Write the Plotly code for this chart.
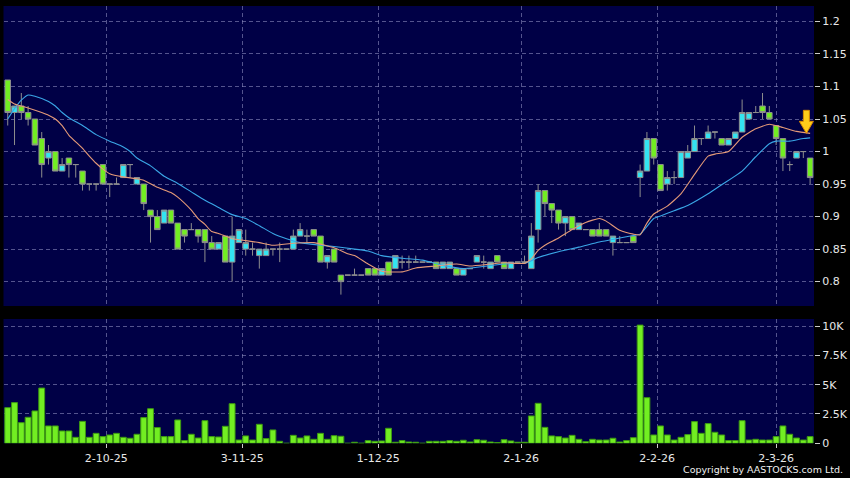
import plotly.graph_objects as go

# ---------------- data ----------------
opens = [1.11,1.06,1.07,1.06,1.05,1.02,0.99,1.00,0.97,0.99,0.98,0.97,0.95,0.95,0.98,0.95,0.95,0.96,0.98,0.95,
         0.95,0.91,0.90,0.89,0.91,0.89,0.88,0.88,0.88,0.88,0.86,0.85,0.87,0.83,0.86,0.85,0.85,0.84,0.84,0.85,
         0.85,0.85,0.85,0.87,0.87,0.88,0.87,0.83,0.85,0.81,0.81,0.81,0.81,0.82,0.82,0.81,0.83,0.82,0.83,0.83,
         0.83,0.83,0.83,0.83,0.82,0.82,0.82,0.81,0.82,0.83,0.83,0.82,0.84,0.83,0.82,0.83,0.83,0.82,0.88,0.94,
         0.92,0.91,0.89,0.90,0.88,0.88,0.88,0.88,0.88,0.86,0.86,0.86,0.87,0.96,0.97,1.02,0.98,0.95,0.96,0.96,
         0.99,1.00,1.02,1.02,1.03,1.02,1.01,1.02,1.03,1.05,1.06,1.07,1.06,1.04,1.02,0.98,0.99,1.00,0.99]
highs = [1.11,1.07,1.09,1.07,1.05,1.03,1.01,1.00,0.99,0.99,0.98,0.97,0.95,0.95,0.98,0.95,0.96,0.98,0.98,0.96,
         0.95,0.91,0.91,0.91,0.91,0.89,0.88,0.89,0.88,0.88,0.87,0.86,0.87,0.90,0.88,0.88,0.86,0.85,0.86,0.85,
         0.86,0.85,0.88,0.89,0.88,0.88,0.87,0.84,0.85,0.81,0.81,0.82,0.81,0.82,0.82,0.82,0.83,0.84,0.84,0.84,
         0.84,0.83,0.83,0.83,0.83,0.83,0.82,0.82,0.82,0.84,0.84,0.83,0.84,0.83,0.83,0.83,0.84,0.89,0.95,0.94,
         0.92,0.91,0.90,0.90,0.89,0.88,0.88,0.89,0.88,0.87,0.87,0.86,0.87,0.98,1.03,1.02,0.98,0.97,0.97,1.00,
         1.01,1.04,1.02,1.04,1.03,1.02,1.02,1.03,1.08,1.06,1.07,1.09,1.07,1.04,1.02,0.985,1.00,1.00,0.99]
lows  = [1.04,1.01,1.05,1.04,1.01,0.96,0.98,0.97,0.97,0.96,0.96,0.94,0.94,0.94,0.95,0.93,0.95,0.96,0.96,0.95,
         0.91,0.86,0.88,0.89,0.89,0.85,0.86,0.88,0.86,0.83,0.85,0.85,0.83,0.80,0.86,0.84,0.84,0.82,0.84,0.84,
         0.83,0.85,0.85,0.87,0.86,0.87,0.83,0.82,0.83,0.78,0.81,0.81,0.81,0.81,0.81,0.81,0.81,0.82,0.82,0.82,
         0.83,0.83,0.83,0.82,0.82,0.82,0.81,0.81,0.82,0.83,0.82,0.82,0.83,0.82,0.82,0.83,0.83,0.82,0.86,0.90,
         0.89,0.88,0.87,0.88,0.88,0.88,0.87,0.87,0.87,0.84,0.86,0.86,0.86,0.93,0.97,0.98,0.94,0.94,0.95,0.96,
         0.99,1.00,1.01,1.02,1.02,1.01,1.01,1.02,1.03,1.05,1.06,1.05,1.05,1.01,0.97,0.97,0.99,0.99,0.95]
closes = [1.06,1.07,1.06,1.05,1.01,0.98,1.00,0.97,0.98,0.98,0.98,0.95,0.95,0.95,0.95,0.95,0.95,0.98,0.98,0.96,
          0.92,0.90,0.88,0.91,0.89,0.85,0.87,0.88,0.87,0.86,0.85,0.86,0.83,0.87,0.88,0.86,0.85,0.85,0.85,0.85,
          0.85,0.85,0.87,0.88,0.87,0.87,0.83,0.84,0.83,0.80,0.81,0.81,0.81,0.81,0.81,0.82,0.81,0.84,0.83,0.83,
          0.83,0.83,0.83,0.82,0.83,0.83,0.81,0.82,0.82,0.84,0.83,0.83,0.83,0.82,0.83,0.83,0.83,0.87,0.94,0.92,
          0.91,0.89,0.90,0.88,0.89,0.88,0.87,0.87,0.87,0.87,0.86,0.86,0.86,0.97,1.02,0.99,0.94,0.96,0.96,1.00,
          1.00,1.02,1.02,1.03,1.03,1.01,1.02,1.03,1.06,1.06,1.06,1.06,1.05,1.02,0.99,0.98,1.00,1.00,0.96]
volumes = [3040,3470,1760,2220,2760,4710,1480,1480,1050,1050,510,1870,510,850,570,710,850,510,430,770,
           2190,2950,1340,570,570,1990,230,770,450,1930,570,540,1450,3380,280,630,280,1620,400,1140,
           170,0,680,450,630,340,850,340,650,600,0,90,0,230,170,200,1280,90,230,110,
           90,0,170,170,170,230,170,260,110,310,260,110,60,310,200,90,90,2330,3410,1360,
           630,570,450,680,340,140,340,280,280,430,110,230,480,10080,3890,710,1480,710,280,510,
           740,1850,850,1680,940,710,230,230,1930,280,340,280,280,570,1480,770,450,280,570]
day = list(range(len(closes)))

# moving averages (day index, value)
ma_short_day = [0,1,3,5,6,7,8,9,11,12,13,14,15,17,19,20,22,24,25,27,28,29,30,31,33,35,37,39,42,45,48,50,51,
                53,55,58,60,63,66,68,71,73,76,77,78,79,81,83,85,87,88,90,92,93,94,95,97,99,101,103,104,106,
                108,110,112,114,116,118]
ma_short = [1.080,1.073,1.067,1.060,1.056,1.050,1.040,1.025,1.005,0.993,0.982,0.973,0.966,0.961,0.958,0.956,
            0.945,0.937,0.930,0.910,0.897,0.888,0.877,0.874,0.866,0.863,0.860,0.856,0.859,0.860,0.852,0.843,
            0.840,0.827,0.816,0.815,0.821,0.824,0.827,0.824,0.827,0.829,0.828,0.835,0.848,0.856,0.867,0.880,
            0.891,0.897,0.893,0.879,0.873,0.872,0.890,0.904,0.916,0.935,0.965,0.993,0.996,1.000,1.022,1.035,
            1.042,1.037,1.031,1.028]
ma_long_day = [0,1,2,3,4,6,7,8,9,11,13,15,17,18,19,21,23,25,27,29,31,33,35,37,39,41,43,46,48,51,53,55,58,61,
               64,67,69,72,74,76,78,81,84,87,90,92,93,95,96,98,100,103,105,108,110,112,113,115,117,118]
ma_long = [1.050,1.066,1.079,1.087,1.085,1.077,1.070,1.060,1.052,1.040,1.026,1.016,1.007,1.000,0.990,0.978,
           0.962,0.951,0.938,0.925,0.914,0.903,0.897,0.886,0.874,0.866,0.860,0.856,0.854,0.850,0.847,0.840,
           0.836,0.833,0.825,0.820,0.822,0.826,0.828,0.828,0.837,0.846,0.853,0.861,0.867,0.871,0.873,0.897,
           0.901,0.909,0.917,0.935,0.949,0.970,0.992,1.012,1.016,1.016,1.020,1.021]

date_tick_day = [14.5, 34.5, 54.5, 75.5, 95.5, 113]
date_tick_text = ["2-10-25", "3-11-25", "1-12-25", "2-1-26", "2-2-26", "2-3-26"]
price_ticks = [0.8, 0.85, 0.9, 0.95, 1.0, 1.05, 1.1, 1.15, 1.2]
price_tick_text = ["0.8", "0.85", "0.9", "0.95", "1", "1.05", "1.1", "1.15", "1.2"]
vol_ticks = [0, 2500, 5000, 7500, 10000]
vol_tick_text = ["0", "2.5K", "5K", "7.5K", "10K"]

# ---------------- style ----------------
W, H = 850, 478
BG = "#000000"
PLOT_BG = "#000046"
CYAN = "#33e4f2"
GREEN = "#72ee22"
OUTLINE = "#8e8e8e"
ORANGE = "#e59a78"
BLUE = "#3aa6e6"
GRID = "rgba(140,140,190,0.6)"
TXT = "#e8e8e8"
FONT = "DejaVu Sans"

fig = go.Figure()
fig.add_trace(go.Candlestick(
    x=day, open=opens, high=highs, low=lows, close=closes,
    increasing=dict(fillcolor=CYAN, line=dict(color=OUTLINE, width=1)),
    decreasing=dict(fillcolor=GREEN, line=dict(color=OUTLINE, width=1)),
    whiskerwidth=0, showlegend=False, hoverinfo="skip", xaxis="x", yaxis="y"))
fig.add_trace(go.Scatter(x=ma_long_day, y=ma_long, mode="lines",
                         line=dict(color=BLUE, width=1.1, shape="spline", smoothing=0.5),
                         showlegend=False, hoverinfo="skip", xaxis="x", yaxis="y"))
fig.add_trace(go.Scatter(x=ma_short_day, y=ma_short, mode="lines",
                         line=dict(color=ORANGE, width=1.1, shape="spline", smoothing=0.5),
                         showlegend=False, hoverinfo="skip", xaxis="x", yaxis="y"))
fig.add_trace(go.Bar(x=day, y=volumes, width=0.86,
                     marker=dict(color=GREEN, line=dict(color="#3d9a12", width=1)),
                     showlegend=False, hoverinfo="skip", xaxis="x2", yaxis="y2"))

# arrow marker pointing at the short MA at the latest day
arrow_day = day[-1] - 0.55
arrow_val = ma_short[-1]
fig.add_shape(type="path", xref="x", yref="y", xsizemode="pixel", ysizemode="pixel",
              xanchor=arrow_day, yanchor=arrow_val,
              path="M 0 0 L -7 12 L -3 12 L -3 23 L 3 23 L 3 12 L 7 12 Z",
              fillcolor="#ffcc1a", line=dict(color="#d98a00", width=1))

x_dom = [3.5 / W, 814 / W]
x_rng = [-0.62, 118.57]
common_x = dict(range=x_rng, domain=x_dom, tickvals=date_tick_day, showgrid=True,
                gridcolor=GRID, griddash="4px,3px", gridwidth=1, zeroline=False,
                showline=False, fixedrange=True, automargin=False)
fig.update_layout(
    width=W, height=H, margin=dict(l=0, r=0, t=0, b=0, autoexpand=False),
    paper_bgcolor=BG, plot_bgcolor=PLOT_BG,
    font=dict(family=FONT, size=11, color=TXT),
    bargap=0, showlegend=False, boxgap=0.1, boxgroupgap=0.1,
    xaxis=dict(**common_x, anchor="y", showticklabels=False, ticks="",
               rangeslider=dict(visible=False)),
    xaxis2=dict(**common_x, anchor="y2", ticktext=date_tick_text, showticklabels=True,
                ticks="outside", ticklen=4, tickcolor="#cccccc",
                tickfont=dict(family=FONT, size=11, color=TXT)),
    yaxis=dict(domain=[(H - 306) / H, (H - 6) / H], range=[0.7625, 1.2238], side="right",
               anchor="x", tickvals=price_ticks, ticktext=price_tick_text,
               ticks="outside", ticklen=5, tickcolor="#cccccc", automargin=False,
               showgrid=True, gridcolor=GRID, griddash="4px,3px", zeroline=False,
               fixedrange=True, tickfont=dict(family=FONT, size=11, color=TXT)),
    yaxis2=dict(domain=[(H - 443.3) / H, (H - 319) / H], range=[0, 10600], side="right",
                anchor="x2", tickvals=vol_ticks, ticktext=vol_tick_text,
                ticks="outside", ticklen=5, tickcolor="#cccccc", automargin=False,
                showgrid=True, gridcolor=GRID, griddash="4px,3px", zeroline=False,
                fixedrange=True, tickfont=dict(family=FONT, size=11, color=TXT)),
    annotations=[dict(text="Copyright by AASTOCKS.com Ltd.", xref="paper", yref="paper",
                      x=845 / W, y=1 / H, xanchor="right", yanchor="bottom", showarrow=False,
                      font=dict(family=FONT, size=9.5, color="#f0f0f0"))],
)

fig.write_html(
    "out.html",
    config={"displayModeBar": False, "staticPlot": True},
    post_script=(
        "document.documentElement.style.margin='0';"
        "document.documentElement.style.overflow='hidden';"
        "document.documentElement.style.background='#000';"
        "document.body.style.margin='0';document.body.style.padding='0';"
        "document.body.style.overflow='hidden';document.body.style.background='#000';"
        "var gd=document.getElementById('{plot_id}');"
        "gd.style.position='fixed';gd.style.left='0';gd.style.top='0';"
    ),
)
